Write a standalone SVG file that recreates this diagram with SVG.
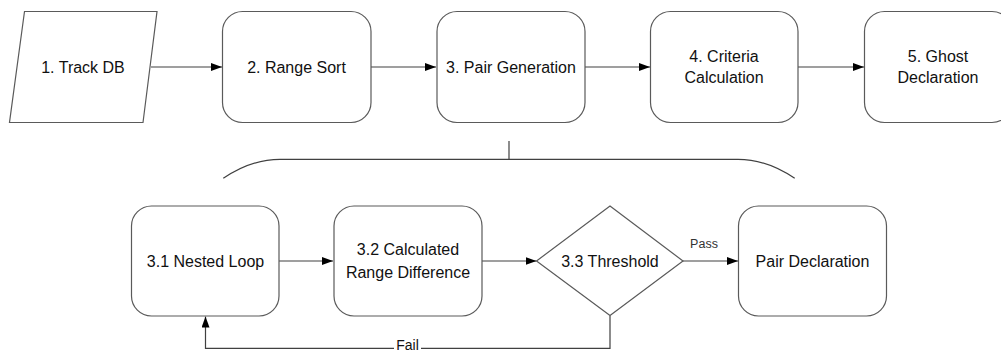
<svg xmlns="http://www.w3.org/2000/svg" width="1001" height="353" viewBox="0 0 1001 353">
  <style>
    .shape { fill: #ffffff; stroke: #5a5a5a; stroke-width: 1.2; }
    .line { fill: none; stroke: #404040; stroke-width: 1.2; }
    .lbl { font-family: "Liberation Sans", Arial, sans-serif; font-size: 16px; fill: #111111; text-anchor: middle; dominant-baseline: central; }
    .small { font-size: 12.5px; fill: #333333; }
  </style>
  <defs>
    <marker id="arrow" viewBox="0 0 11 8" refX="11" refY="4" markerWidth="11" markerHeight="8" markerUnits="userSpaceOnUse" orient="auto">
      <path d="M0,0 L11,4 L0,8 Z" fill="#000000"/>
    </marker>
  </defs>
  <rect width="1001" height="353" fill="#ffffff"/>

  <!-- connectors -->
  <g id="connectors">
    <line class="line" x1="151" y1="67" x2="222" y2="67" marker-end="url(#arrow)"/>
    <line class="line" x1="371" y1="67" x2="436" y2="67" marker-end="url(#arrow)"/>
    <line class="line" x1="585" y1="67" x2="650" y2="67" marker-end="url(#arrow)"/>
    <line class="line" x1="798" y1="67" x2="864" y2="67" marker-end="url(#arrow)"/>
    <!-- brace grouping the sub-steps of step 3 -->
    <path class="line" d="M223.3,178.3 C240,167 258,159.3 280,159.3 L738,159.3 C760,159.3 778,167 794.7,178.3"/>
    <line class="line" x1="509" y1="141" x2="509" y2="159.3"/>
    <line class="line" x1="279" y1="261" x2="333" y2="261" marker-end="url(#arrow)"/>
    <line class="line" x1="482" y1="261" x2="536.5" y2="261" marker-end="url(#arrow)"/>
    <line class="line" x1="683" y1="261" x2="738" y2="261" marker-end="url(#arrow)"/>
    <polyline class="line" points="610,315.5 610,348.3 205.5,348.3 205.5,316.5" marker-end="url(#arrow)"/>
    <text class="lbl small" x="704" y="243.5">Pass</text>
    <rect x="394" y="339" width="27" height="14" fill="#ffffff"/>
    <text class="lbl" style="font-size:14px; dominant-baseline:auto" x="407.5" y="350">Fail</text>
  </g>

  <!-- top row -->
  <g id="n1">
    <polygon class="shape" points="24.5,11.5 157,11.5 143,122.5 9.5,122.5"/>
    <text class="lbl" x="83" y="67">1. Track DB</text>
  </g>
  <g id="n2">
    <rect class="shape" x="222.5" y="11.5" width="148.5" height="111" rx="20" ry="20"/>
    <text class="lbl" x="296.5" y="67">2. Range Sort</text>
  </g>
  <g id="n3">
    <rect class="shape" x="437" y="11.5" width="148" height="111" rx="20" ry="20"/>
    <text class="lbl" x="511" y="67">3. Pair Generation</text>
  </g>
  <g id="n4">
    <rect class="shape" x="650.5" y="11.5" width="147.5" height="111" rx="20" ry="20"/>
    <text class="lbl" x="724" y="56">4. Criteria</text>
    <text class="lbl" x="724" y="77.5">Calculation</text>
  </g>
  <g id="n5">
    <rect class="shape" x="864.5" y="11.5" width="147.5" height="111" rx="20" ry="20"/>
    <text class="lbl" x="938" y="56">5. Ghost</text>
    <text class="lbl" x="938" y="77.5">Declaration</text>
  </g>

  <!-- sub-steps of step 3 -->
  <g id="n31">
    <rect class="shape" x="131.5" y="206" width="147.5" height="110" rx="20" ry="20"/>
    <text class="lbl" x="205.5" y="261">3.1 Nested Loop</text>
  </g>
  <g id="n32">
    <rect class="shape" x="334" y="206" width="148" height="110" rx="20" ry="20"/>
    <text class="lbl" x="408" y="249.5">3.2 Calculated</text>
    <text class="lbl" x="408" y="272">Range Difference</text>
  </g>
  <g id="n33">
    <polygon class="shape" points="610,206 683,261 610,315.5 536.5,261"/>
    <text class="lbl" x="610" y="261">3.3 Threshold</text>
  </g>
  <g id="n34">
    <rect class="shape" x="738.5" y="206" width="148" height="110" rx="20" ry="20"/>
    <text class="lbl" x="812.5" y="261">Pair Declaration</text>
  </g>
</svg>
